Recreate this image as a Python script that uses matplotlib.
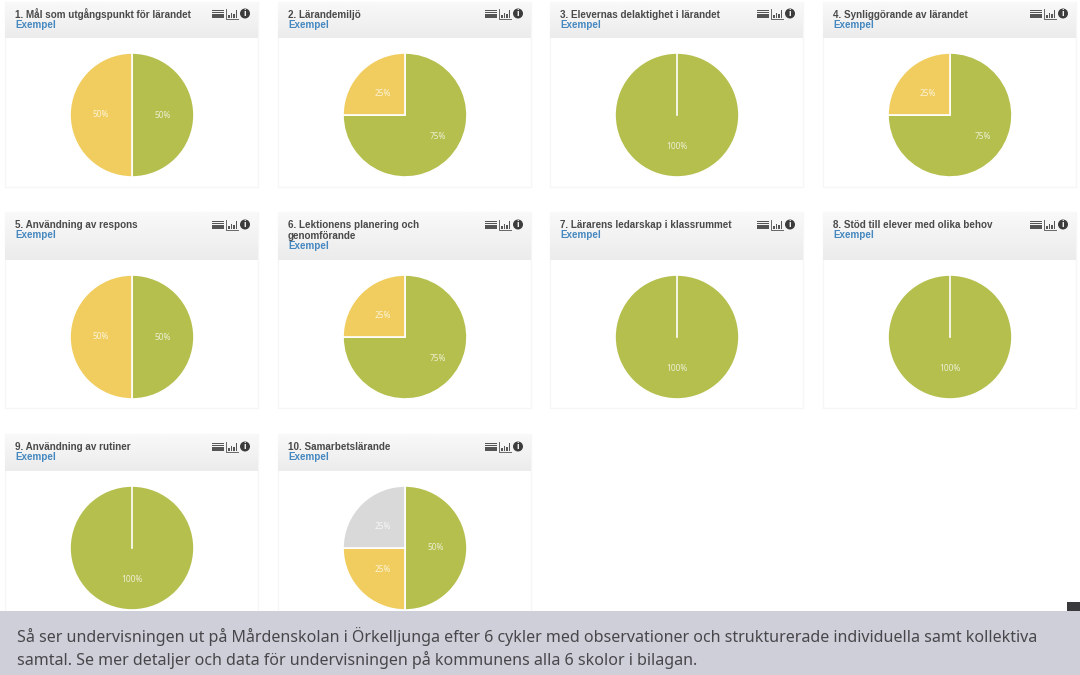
import matplotlib
matplotlib.use('Agg')
import matplotlib.pyplot as plt
import numpy as np
from matplotlib.patches import Rectangle, Circle

titles = [
    ['1. Mål som utgångspunkt för lärandet'],
    ['2. Lärandemiljö'],
    ['3. Elevernas delaktighet i lärandet'],
    ['4. Synliggörande av lärandet'],
    ['5. Användning av respons'],
    ['6. Lektionens planering och', 'genomförande'],
    ['7. Lärarens ledarskap i klassrummet'],
    ['8. Stöd till elever med olika behov'],
    ['9. Användning av rutiner'],
    ['10. Samarbetslärande'],
]
subtitle = 'Exempel'

# andelar per kategori, samma ordning som titlarna
green_vals = [50, 75, 100, 75, 50, 75, 100, 100, 100, 50]
yellow_vals = [50, 25, 0, 25, 50, 25, 0, 0, 0, 25]
grey_vals = [0, 0, 0, 0, 0, 0, 0, 0, 0, 25]

caption = [
    'Så ser undervisningen ut på Mårdenskolan i Örkelljunga efter 6 cykler med observationer och strukturerade individuella samt kollektiva',
    'samtal. Se mer detaljer och data för undervisningen på kommunens alla 6 skolor i bilagan.',
]

GREEN = '#b5bf4d'
YELLOW = '#f1cd5f'
GREY = '#d9d9d9'
W, H = 1080, 675

plt.rcParams['font.family'] = ['Noto Sans', 'DejaVu Sans']
HEAD_FONT = ['Liberation Sans', 'DejaVu Sans']

fig = plt.figure(figsize=(W / 100, H / 100), dpi=100, facecolor='white')

# bakgrundslager i pixelkoordinater
bg = fig.add_axes([0, 0, 1, 1], zorder=0)
bg.set_xlim(0, W)
bg.set_ylim(H, 0)
bg.axis('off')

# överlager för bildtexten, ligger ovanpå cirklarna
top = fig.add_axes([0, 0, 1, 1], zorder=5)
top.set_xlim(0, W)
top.set_ylim(H, 0)
top.axis('off')
top.patch.set_alpha(0)

col_x = [5, 278, 550, 823]
panel_w = 253
# (rubrik start, rubrik slut, panel slut, cirkelns mitt, rubriktextens y)
rows = [(2, 38, 187, 115, 14.5), (212, 260, 408, 337, 225.5), (434, 471, 625, 548, 447.5)]
radius = 62
gradient = np.linspace(0, 1, 32).reshape(-1, 1)
cmap = matplotlib.colors.LinearSegmentedColormap.from_list('head', ['#f9f9f9', '#ececed'])


def draw_icons(x, y):
    # lista
    for k in range(4):
        bg.add_patch(Rectangle((x, y - 4 + k * 2.3), 12, 1.5, color='#555555', lw=0, zorder=3))
    # stapeldiagram
    bg.plot([x + 14, x + 14, x + 26], [y - 5, y + 5, y + 5], color='#666666', lw=0.7, zorder=3)
    for dx, h in zip([16, 18.5, 21, 23.5], [3, 5, 4, 8]):
        bg.add_patch(Rectangle((x + dx, y + 4 - h), 1.5, h, color='#555555', lw=0, zorder=3))
    # info
    bg.add_patch(Circle((x + 33, y), 5, color='#3c3c3c', lw=0, zorder=3))
    bg.text(x + 33, y + 0.3, 'i', color='white', fontsize=6.5, weight='bold',
            family=HEAD_FONT, ha='center', va='center', zorder=4)


for i in range(len(titles)):
    row = rows[i // 4]
    x0 = col_x[i % 4]
    head_top, head_bottom, panel_bottom, cy, text_y = row
    cx = x0 + 127

    bg.add_patch(Rectangle((x0, head_top), panel_w, panel_bottom - head_top,
                           facecolor='white', edgecolor='#f6f6f6', lw=1))
    bg.imshow(gradient, cmap=cmap, aspect='auto', zorder=1,
              extent=(x0, x0 + panel_w, head_bottom, head_top))

    y = text_y
    for line in titles[i]:
        bg.text(x0 + 10, y, line, fontsize=7.15, weight='bold', family=HEAD_FONT,
                color='#4a4a4a', va='center', zorder=2)
        y += 10.5
    bg.text(x0 + 10, y - 0.5, subtitle, fontsize=7.15, weight='bold', family=HEAD_FONT,
            color='#4587bf', va='center', zorder=2)
    draw_icons(x0 + 207, text_y - 1)

    vals = [green_vals[i], yellow_vals[i], grey_vals[i]]
    cols = [GREEN, YELLOW, GREY]
    shown = [(v, c) for v, c in zip(vals, cols) if v > 0]

    ax = fig.add_axes([(cx - radius - 1) / W, 1 - (cy + radius + 1) / H,
                       (2 * radius + 2) / W, (2 * radius + 2) / H], zorder=2)
    wedges, texts, pct_texts = ax.pie(
        [s[0] for s in shown], colors=[s[1] for s in shown], startangle=90,
        counterclock=False, radius=1, autopct='%d%%', pctdistance=0.5,
        wedgeprops={'edgecolor': 'white', 'linewidth': 1.2},
        textprops={'color': 'white', 'fontsize': 6, 'alpha': 0.75})
    # en hel cirkel får ingen egen skarv, så den ritas för hand
    if len(shown) == 1:
        ax.plot([0, 0], [0, 1], color='white', lw=1.2)
    # den stora tårtbiten har sin etikett längre ut
    for val, t in zip([s[0] for s in shown], pct_texts):
        if val == 75:
            px, py = t.get_position()
            t.set_position((px * 1.5, py * 1.0))
    ax.set_xlim(-1.016, 1.016)
    ax.set_ylim(-1.016, 1.016)
    ax.patch.set_alpha(0)

bg.set_xlim(0, W)
bg.set_ylim(H, 0)

# bildtext längst ner
top.add_patch(Rectangle((1067, 602), 13, 10, color='#3a3a3c', lw=0))
top.add_patch(Rectangle((0, 611), W, H - 611, color='#cfcfd9', lw=0))
top.text(17, 637, caption[0], fontsize=11.55, color='#47474b', va='center')
top.text(17, 660, caption[1], fontsize=11.55, color='#47474b', va='center')

fig.savefig('out.png', dpi=100)
